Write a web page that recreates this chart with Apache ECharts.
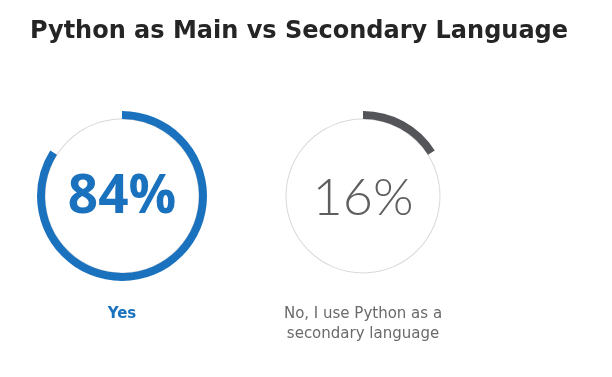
<!DOCTYPE html>
<html>
<head>
<meta charset="utf-8">
<script src="https://cdn.jsdelivr.net/npm/echarts@6/dist/echarts.min.js"></script>
<style>
  html, body { margin: 0; padding: 0; background: #fff; }
  #chart { width: 612px; height: 377px; }
</style>
</head>
<body>
<div id="chart"></div>
<script>
// data
var categories = ['Yes', 'No, I use Python as a\nsecondary language'];
var shares = [84, 16];
var arcColors = ['#1a72be', '#545559'];
var centerColors = ['#1a72be', '#5e5e60'];
var labelColors = ['#1a72be', '#6a6a6a'];

var centersX = [122, 363];
var centerY = 196;

var chart = echarts.init(document.getElementById('chart'));

var series = [];
var texts = [];
categories.forEach(function (name, i) {
    // thin gray ring
    series.push({
        type: 'pie',
        center: [centersX[i], centerY],
        radius: [76.5, 77.5],
        silent: true,
        label: { show: false },
        labelLine: { show: false },
        itemStyle: { color: '#d9d9d9' },
        data: [{ value: 100, name: 'ring' }]
    });
    // value arc, clockwise from 12 o'clock
    series.push({
        type: 'pie',
        center: [centersX[i], centerY],
        radius: [77, 85],
        startAngle: 90,
        clockwise: true,
        silent: true,
        label: { show: false },
        labelLine: { show: false },
        data: [
            { value: shares[i], name: name, itemStyle: { color: arcColors[i] } },
            { value: 100 - shares[i], name: 'rest', itemStyle: { color: 'transparent' } }
        ]
    });
    texts.push({
        type: 'text',
        x: centersX[i],
        y: centerY + 2,
        style: {
            text: shares[i] + '%',
            fill: centerColors[i],
            font: i === 0 ? 'bold 53px "Open Sans", sans-serif' : '300 52px Lato, sans-serif',
            textAlign: 'center',
            textVerticalAlign: 'middle'
        }
    });
    texts.push({
        type: 'text',
        x: centersX[i],
        y: 304,
        style: {
            text: name,
            fill: labelColors[i],
            font: (i === 0 ? 'bold ' : '') + '15px "DejaVu Sans", sans-serif',
            textAlign: 'center',
            textVerticalAlign: 'top',
            lineHeight: 20
        }
    });
});

var option = {
    animation: false,
    title: {
        text: 'Python as Main vs Secondary Language',
        left: 294,
        top: 15,
        textAlign: 'center',
        textStyle: {
            color: '#252525',
            fontSize: 24,
            fontWeight: 'bold',
            fontFamily: '"DejaVu Sans", sans-serif'
        }
    },
    series: series,
    graphic: texts
};
chart.setOption(option);
</script>
</body>
</html>
